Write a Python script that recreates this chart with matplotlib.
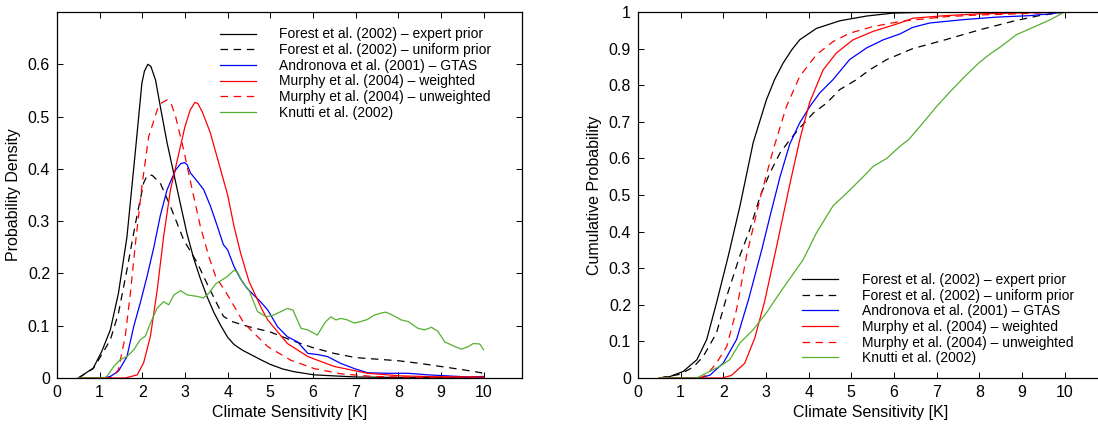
import matplotlib
matplotlib.use('Agg')
import matplotlib.pyplot as plt

plt.rcParams['font.family'] = ['Liberation Sans', 'DejaVu Sans']

# ---- probability densities (left panel) ----
fe_x = [0.5, 0.85, 1.05, 1.25, 1.44, 1.64, 1.84, 1.99, 2.05, 2.13, 2.2, 2.31, 2.42, 2.58, 2.74, 2.9, 3.05, 3.2,
        3.36, 3.52, 3.68, 3.84, 4.0, 4.15, 4.35, 4.54, 4.75, 5.0, 5.3, 5.56, 6.03, 6.5, 7.0, 8.0, 9.0, 10.0]
fe_y = [0, 0.019, 0.051, 0.092, 0.162, 0.27, 0.436, 0.564, 0.587, 0.60, 0.596, 0.57, 0.52, 0.45, 0.39, 0.33,
        0.275, 0.23, 0.19, 0.155, 0.125, 0.10, 0.078, 0.064, 0.053, 0.045, 0.036, 0.026, 0.017, 0.012, 0.006,
        0.004, 0.002, 0.001, 0.0005, 0.0]

fu_x = [0.5, 0.85, 1.05, 1.25, 1.44, 1.64, 1.84, 2.03, 2.1, 2.17, 2.24, 2.3, 2.42, 2.66, 2.97, 3.29, 3.52, 3.7,
        3.9, 4.1, 4.5, 5.0, 5.5, 6.0, 6.5, 7.0, 7.5, 8.0, 8.5, 9.0, 9.5, 9.95, 10.0]
fu_y = [0, 0.018, 0.045, 0.073, 0.124, 0.207, 0.296, 0.373, 0.385, 0.389, 0.387, 0.382, 0.373, 0.328, 0.264,
        0.22, 0.18, 0.15, 0.118, 0.108, 0.098, 0.088, 0.072, 0.058, 0.047, 0.039, 0.036, 0.033, 0.028, 0.022,
        0.016, 0.01, 0.0]

an_x = [0.5, 1.1, 1.25, 1.44, 1.64, 1.8, 1.95, 2.11, 2.27, 2.42, 2.58, 2.78, 2.9, 2.99, 3.05, 3.13, 3.29, 3.44,
        3.6, 3.76, 3.9, 4.0, 4.15, 4.3, 4.45, 4.62, 4.78, 4.94, 5.17, 5.4, 5.64, 5.88, 6.1, 6.34, 6.65, 6.97,
        7.28, 7.75, 8.23, 8.7, 9.17, 9.64, 10.0]
an_y = [0, 0, 0.003, 0.013, 0.041, 0.099, 0.143, 0.194, 0.25, 0.31, 0.36, 0.398, 0.41, 0.412, 0.408, 0.392,
        0.376, 0.36, 0.328, 0.29, 0.255, 0.245, 0.213, 0.19, 0.172, 0.158, 0.145, 0.13, 0.098, 0.079, 0.069,
        0.047, 0.045, 0.041, 0.028, 0.018, 0.01, 0.009, 0.009, 0.006, 0.004, 0.002, 0.003]

mw_x = [0.5, 1.6, 1.88, 2.03, 2.19, 2.35, 2.5, 2.66, 2.82, 3.0, 3.12, 3.23, 3.3, 3.4, 3.59, 3.83, 4.0, 4.15,
        4.3, 4.5, 4.8, 4.94, 5.4, 5.88, 6.5, 7.28, 8.07, 8.85, 10.0]
mw_y = [0, 0, 0.006, 0.029, 0.08, 0.169, 0.271, 0.36, 0.417, 0.481, 0.512, 0.527, 0.525, 0.51, 0.47, 0.40,
        0.35, 0.29, 0.24, 0.185, 0.132, 0.111, 0.066, 0.041, 0.022, 0.009, 0.004, 0.0025, 0.002]

mu_x = [0.5, 1.3, 1.44, 1.6, 1.72, 1.84, 2.0, 2.15, 2.35, 2.45, 2.58, 2.68, 2.78, 2.97, 3.17, 3.36, 3.56, 3.72,
        3.99, 4.38, 4.94, 5.48, 6.03, 6.65, 7.4, 8.5, 10.0]
mu_y = [0, 0, 0.016, 0.08, 0.162, 0.258, 0.373, 0.462, 0.513, 0.526, 0.532, 0.524, 0.5, 0.436, 0.36, 0.29,
        0.232, 0.194, 0.16, 0.105, 0.06, 0.034, 0.018, 0.008, 0.003, 0.001, 0.0]

kn_x = [0.5, 1.1, 1.17, 1.33, 1.48, 1.64, 1.8, 1.95, 2.07, 2.19, 2.35, 2.5, 2.62, 2.74, 2.9, 3.05, 3.29, 3.43,
        3.56, 3.72, 3.8, 3.99, 4.15, 4.23, 4.34, 4.5, 4.7, 4.9, 5.06, 5.25, 5.4, 5.53, 5.72, 5.88, 6.1, 6.3,
        6.42, 6.54, 6.65, 6.81, 6.97, 7.12, 7.28, 7.43, 7.59, 7.71, 7.87, 8.07, 8.23, 8.46, 8.62, 8.78, 8.93,
        9.09, 9.33, 9.48, 9.64, 9.76, 9.91, 10.0]
kn_y = [0, 0, 0.003, 0.022, 0.035, 0.041, 0.054, 0.073, 0.08, 0.105, 0.134, 0.146, 0.14, 0.159, 0.167, 0.159,
        0.156, 0.153, 0.162, 0.18, 0.184, 0.194, 0.206, 0.203, 0.184, 0.168, 0.127, 0.117, 0.12, 0.127, 0.133,
        0.13, 0.095, 0.092, 0.082, 0.108, 0.117, 0.111, 0.114, 0.111, 0.105, 0.108, 0.112, 0.12, 0.124, 0.126,
        0.12, 0.111, 0.108, 0.095, 0.092, 0.097, 0.089, 0.069, 0.06, 0.055, 0.06, 0.066, 0.065, 0.054]

# ---- cumulative probabilities (right panel) ----
cfe_x = [0.5, 0.75, 1.06, 1.38, 1.61, 1.84, 2.12, 2.39, 2.7, 3.01, 3.2, 3.4, 3.6, 3.79, 4.18, 4.73, 5.36,
         5.98, 7.0, 10.0]
cfe_y = [0, 0.004, 0.018, 0.05, 0.105, 0.205, 0.335, 0.47, 0.643, 0.76, 0.815, 0.86, 0.896, 0.924, 0.955,
         0.976, 0.989, 0.997, 1.0, 1.0]

cfu_x = [0.5, 0.98, 1.3, 1.53, 1.84, 2.08, 2.39, 2.62, 2.86, 3.09, 3.33, 3.56, 3.79, 4.11, 4.42, 4.73, 5.12,
         5.43, 5.83, 6.44, 7.2, 8.0, 8.8, 9.4, 10.0]
cfu_y = [0, 0.01, 0.03, 0.059, 0.123, 0.223, 0.335, 0.405, 0.496, 0.56, 0.615, 0.651, 0.683, 0.724, 0.751,
         0.788, 0.815, 0.842, 0.87, 0.9, 0.924, 0.951, 0.975, 0.99, 1.0]

can_x = [0.5, 1.45, 1.69, 2.0, 2.31, 2.59, 2.9, 3.09, 3.33, 3.56, 3.79, 4.03, 4.26, 4.57, 4.96, 5.36, 5.75,
         6.14, 6.44, 6.84, 7.62, 8.4, 9.18, 9.65, 10.0]
can_y = [0, 0, 0.008, 0.041, 0.105, 0.214, 0.35, 0.44, 0.55, 0.64, 0.697, 0.742, 0.779, 0.815, 0.87, 0.902,
         0.924, 0.94, 0.958, 0.97, 0.979, 0.986, 0.99, 0.995, 1.0]

cmw_x = [0.5, 1.97, 2.19, 2.5, 2.74, 2.97, 3.25, 3.56, 3.79, 3.9, 4.03, 4.34, 4.65, 5.04, 5.51, 6.14, 6.44,
         7.2, 8.0, 8.8, 10.0]
cmw_y = [0, 0, 0.007, 0.04, 0.11, 0.21, 0.36, 0.53, 0.65, 0.70, 0.755, 0.842, 0.888, 0.924, 0.947, 0.97,
         0.983, 0.99, 0.995, 0.997, 1.0]

cmu_x = [0.5, 1.45, 1.61, 1.84, 2.08, 2.31, 2.55, 2.86, 3.17, 3.48, 3.79, 4.18, 4.57, 4.96, 5.5, 6.14, 6.44,
         7.2, 8.0, 8.9, 10.0]
cmu_y = [0, 0, 0.008, 0.041, 0.086, 0.187, 0.337, 0.49, 0.624, 0.742, 0.824, 0.883, 0.919, 0.942, 0.96,
         0.974, 0.978, 0.987, 0.992, 0.995, 1.0]

ckn_x = [0.5, 1.38, 1.61, 1.92, 2.15, 2.39, 2.7, 3.01, 3.32, 3.87, 4.18, 4.57, 4.89, 5.28, 5.51, 5.83, 6.14,
         6.35, 6.68, 7.0, 7.34, 7.67, 8.0, 8.25, 8.5, 8.87, 9.26, 9.65, 10.0]
ckn_y = [0, 0, 0.014, 0.032, 0.05, 0.096, 0.132, 0.178, 0.232, 0.323, 0.396, 0.47, 0.505, 0.55, 0.578, 0.6,
         0.633, 0.652, 0.697, 0.742, 0.785, 0.825, 0.862, 0.885, 0.905, 0.938, 0.958, 0.978, 1.0]

labels = ['Forest et al. (2002) \u2013 expert prior',
          'Forest et al. (2002) \u2013 uniform prior',
          'Andronova et al. (2001) \u2013 GTAS',
          'Murphy et al. (2004) \u2013 weighted',
          'Murphy et al. (2004) \u2013 unweighted',
          'Knutti et al. (2002)']
colors = ['k', 'k', '#0000ff', '#ff0000', '#ff0000', '#55b030']
dash = (0, (6, 4.5))
styles = ['-', dash, '-', '-', dash, '-']

pdfs = [(fe_x, fe_y), (fu_x, fu_y), (an_x, an_y), (mw_x, mw_y), (mu_x, mu_y), (kn_x, kn_y)]
cdfs = [(cfe_x, cfe_y), (cfu_x, cfu_y), (can_x, can_y), (cmw_x, cmw_y), (cmu_x, cmu_y), (ckn_x, ckn_y)]

fig = plt.figure(figsize=(10.98, 4.24), dpi=100)
ax1 = fig.add_axes([57 / 1098, 46 / 424, 465 / 1098, 366 / 424])
ax2 = fig.add_axes([638 / 1098, 46 / 424, 465 / 1098, 366 / 424])

for (x, y), c, s, lab in zip(pdfs, colors, styles, labels):
    ax1.plot(x, y, color=c, linestyle=s, lw=0.9, label=lab)
for (x, y), c, s, lab in zip(cdfs, colors, styles, labels):
    ax2.plot(x, y, color=c, linestyle=s, lw=0.9, label=lab)

ax1.set_ylim(0, 0.7)
ax1.set_yticks([0, 0.1, 0.2, 0.3, 0.4, 0.5, 0.6])
ax1.set_yticklabels(['0', '0.1', '0.2', '0.3', '0.4', '0.5', '0.6'])
ax1.set_ylabel('Probability Density', fontsize=11.5, labelpad=5)

ax2.set_ylim(0, 1)
ax2.set_yticks([i / 10 for i in range(11)])
ax2.set_yticklabels(['0'] + ['0.%d' % i for i in range(1, 10)] + ['1'])
ax2.set_ylabel('Cumulative Probability', fontsize=11.5, labelpad=5)

for ax in (ax1, ax2):
    ax.set_xlim(0, 10.9)
    ax.set_xticks(range(11))
    ax.set_xlabel('Climate Sensitivity [K]', fontsize=11.5, labelpad=4)
    ax.tick_params(direction='in', top=True, right=True, length=4, width=0.7, labelsize=11.5, pad=5)
    for sp in ax.spines.values():
        sp.set_linewidth(0.9)
ax2.tick_params(right=False)

ax1.legend(loc='upper left', bbox_to_anchor=(0.35, 0.958), frameon=False, fontsize=10,
           handlelength=2.6, handletextpad=1.7, labelspacing=0.12, borderpad=0, borderaxespad=0)
ax2.legend(loc='upper left', bbox_to_anchor=(0.353, 0.287), frameon=False, fontsize=10,
           handlelength=2.6, handletextpad=1.7, labelspacing=0.12, borderpad=0, borderaxespad=0)

fig.savefig('out.png', dpi=100)
